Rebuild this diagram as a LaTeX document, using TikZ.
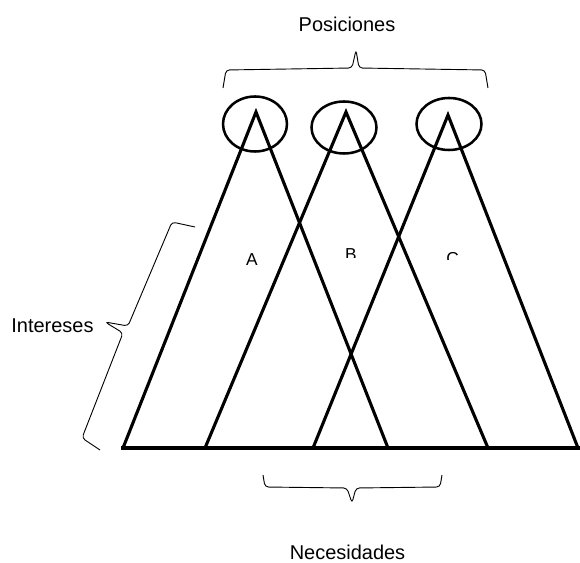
\documentclass[tikz,border=0pt]{standalone}
\usepackage{fontspec}
\setmainfont{Liberation Sans}
\begin{document}
\begin{tikzpicture}[x=0.025cm, y=-0.025cm,
  cone/.style={line width=2.2pt, line join=miter},
  ground/.style={line width=2.3pt},
  ring/.style={line width=1.8pt},
  bracket/.style={line width=0.65pt, rounded corners=2.5pt},
  label/.style={font=\fontsize{14.2}{17}\selectfont, inner sep=0pt, anchor=base},
  letter/.style={font=\fontsize{12.3}{14}\selectfont, inner sep=0pt, anchor=base}]
\useasboundingbox (0,0) rectangle (580,563);

% apexes and base points of the three cones
\coordinate (ta) at (256,112);
\coordinate (tb) at (346,112);
\coordinate (tc) at (448,115);
\coordinate (la) at (123,448);
\coordinate (ra) at (388,448);
\coordinate (lb) at (205,448);
\coordinate (rb) at (488,448);
\coordinate (lc) at (313,448);
\coordinate (rc) at (578,448);
\coordinate (g0) at (121,448);
\coordinate (g1) at (580,448);

% ground line and cones
\draw[ground] (g0) -- (g1);
\draw[cone] (la) -- (ta) -- (ra);
\draw[cone] (lb) -- (tb) -- (rb);
\draw[cone] (lc) -- (tc) -- (rc);

% circles round the apexes
\draw[ring] (255,124) ellipse (32 and 27.5);
\draw[ring] (344,127.5) ellipse (32.5 and 26);
\draw[ring] (449,124) ellipse (32.5 and 26);

% cone letters
\begin{scope}
  \clip (240,240) rectangle (266,267);
  \node[letter] (A) at (252,265.5) {A};
\end{scope}
\begin{scope}
  \clip (338,240) rectangle (366,258);
  \node[letter] (B) at (351,260.5) {B};
\end{scope}
\begin{scope}
  \clip (440,240) rectangle (467,260);
  \node[letter] (C) at (452.5,264.5) {C};
\end{scope}

% braces
\draw[bracket] (223,88) -- (226,70) -- (352,68) -- (356,50) -- (359,68) -- (485,70) -- (488,88);
\draw[bracket] (263,475) -- (265,487) -- (347,488) -- (352,503) -- (356,488) -- (440,487) -- (442,475);
\draw[bracket] (195,227) -- (172,222) -- (128,326) -- (105,322) -- (123,333) -- (82,438) -- (100,450);

% labels
\node[label] (pos) at (347,31.7) {Posiciones};
\node[label] (int) at (52.5,333) {Intereses};
\node[label] (nec) at (347.5,560) {Necesidades};
\end{tikzpicture}
\end{document}
